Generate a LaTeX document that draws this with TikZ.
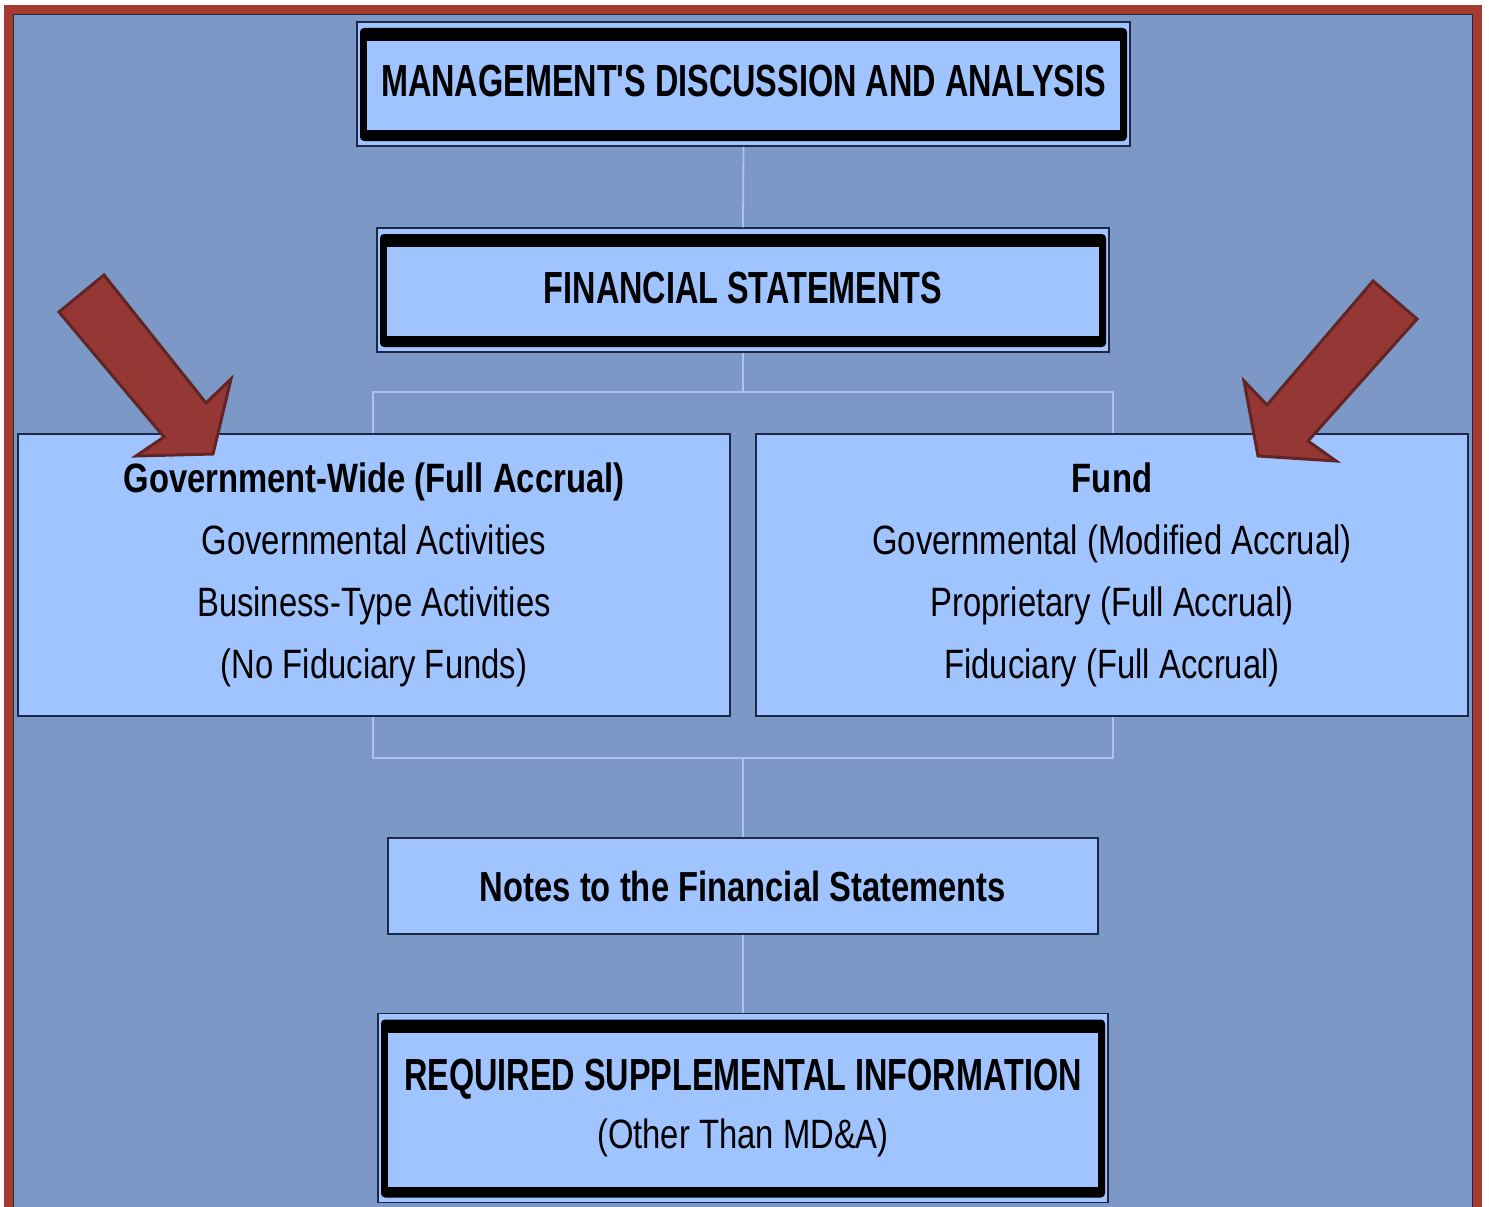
\documentclass[tikz,border=0pt]{standalone}
\usepackage{fontspec}
\newfontfamily\bodyfont[FakeStretch=0.80]{Liberation Sans}
\newfontfamily\notesfont[FakeStretch=0.78]{Liberation Sans}
\newfontfamily\capsfont[FakeStretch=0.72]{Liberation Sans}
\definecolor{bgblue}{RGB}{123,152,198}
\definecolor{boxblue}{RGB}{160,196,255}
\definecolor{navyline}{RGB}{28,40,70}
\definecolor{connblue}{RGB}{170,198,240}
\definecolor{framered}{RGB}{164,58,48}
\definecolor{arrowred}{RGB}{149,55,53}
\definecolor{arrowdark}{RGB}{99,37,35}
\tikzset{
  plainbox/.style={rectangle, draw=navyline, line width=2pt, fill=boxblue, inner sep=0pt},
  thickframe/.style={plainbox, line width=1.5pt, path picture={
    \fill[black, rounded corners=4pt]
      ([shift={(3pt,-6pt)}]path picture bounding box.north west) rectangle
      ([shift={(-3pt,5pt)}]path picture bounding box.south east);
    \fill[boxblue]
      ([shift={(10pt,-19pt)}]path picture bounding box.north west) rectangle
      ([shift={(-10pt,16pt)}]path picture bounding box.south east);
  }},
  capstext/.style={font=\capsfont\bfseries\fontsize{45}{52}\selectfont},
  bodytext/.style={font=\bodyfont\fontsize{41}{62}\selectfont, align=center},
  conn/.style={draw=connblue, line width=1.8pt},
  bigarrow/.style={fill=arrowred, draw=arrowdark, line width=3pt, line join=miter}
}
\begin{document}
\begin{tikzpicture}[x=1pt,y=-1pt]
\useasboundingbox (0,0) rectangle (1489,1207);
\fill[white] (0,0) rectangle (1489,1207);
\fill[framered] (4,5) rectangle (1482,1207);
\fill[bgblue] (13,14) rectangle (1473,1207);
\draw[navyline, line width=1.2pt] (13.5,1207) -- (13.5,14.5) -- (1472.5,14.5) -- (1472.5,1207);

% bracket behind the two statement boxes
\coordinate (brtl) at (373,392);
\coordinate (brbr) at (1113,758);
\coordinate (brtop) at (743,392);
\coordinate (brbot) at (743,758);
\draw[conn] (brtl) rectangle (brbr);

% boxes
\node[thickframe, capstext, minimum width=773pt, minimum height=124pt,
      text height=32.2pt, text depth=8.2pt] (mda) at (743.5,84)
      {MANAGEMENT'S DISCUSSION AND ANALYSIS};
\node[thickframe, capstext, minimum width=732pt, minimum height=124pt,
      text height=32.2pt, text depth=6.2pt] (fs) at (743,290)
      {FINANCIAL STATEMENTS};
\node[plainbox, bodytext, minimum width=712pt, minimum height=282pt] (gw) at (374,575)
      {\bfseries Government-Wide (Full Accrual)\\ Governmental Activities\\ Business-Type Activities\\ (No Fiduciary Funds)};
\node[plainbox, bodytext, minimum width=712pt, minimum height=282pt] (fund) at (1112,575)
      {\bfseries Fund\\ Governmental (Modified Accrual)\\ Proprietary (Full Accrual)\\ Fiduciary (Full Accrual)};
\node[plainbox, font=\notesfont\bfseries\fontsize{42}{48}\selectfont,
      minimum width=710pt, minimum height=96pt] (notes) at (743,886)
      {Notes to the Financial Statements};
\node[thickframe, align=center, font=\bodyfont\fontsize{41}{58}\selectfont,
      minimum width=730pt, minimum height=189pt] (rsi) at (743,1108)
      {{\capsfont\bfseries\fontsize{45}{58}\selectfont REQUIRED SUPPLEMENTAL INFORMATION}\\ (Other Than MD\&A)};

% connectors
\draw[conn] (mda.south) -- (fs.north);
\draw[conn] (fs.south) -- (brtop);
\draw[conn] (brbot) -- (notes.north);
\draw[conn] (notes.south) -- (rsi.north);

% red block arrows
\filldraw[bigarrow] (104,275) -- (59,312) -- (164,437) -- (136,456) -- (213,454) -- (231,379) -- (206,403) -- cycle;
\filldraw[bigarrow] (1373,281) -- (1417,319) -- (1308,441) -- (1336,461) -- (1258,456) -- (1244,381) -- (1267,405) -- cycle;
\end{tikzpicture}
\end{document}
